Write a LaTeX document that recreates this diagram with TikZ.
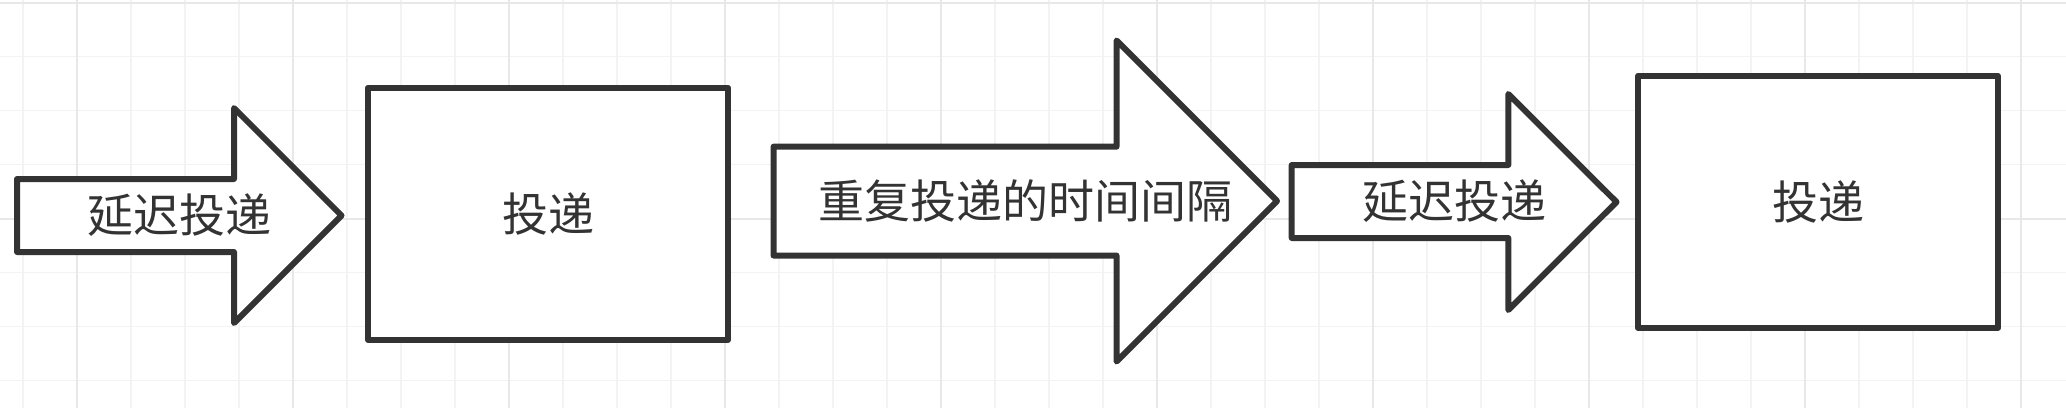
\documentclass[tikz,border=0pt]{standalone}
\usepackage{fontspec}
\newfontfamily\cjk{Noto Sans CJK SC}
\definecolor{ink}{HTML}{333333}
\definecolor{gridminor}{HTML}{F3F3F3}
\definecolor{gridmajor}{HTML}{E8E8E8}
\tikzset{
	outline/.style={draw=ink, line width=6pt, line join=round, fill=white},
	stepbox/.style={outline, rectangle, minimum width=360pt, minimum height=252pt, inner sep=0pt, outer sep=0pt},
	caption/.style={inner sep=0pt, text=ink, font=\cjk\fontsize{46}{52}\selectfont}
}
\begin{document}
\begin{tikzpicture}[x=1pt, y=-1pt]
			\fill[white] (0,0) rectangle (2066,408);
			\useasboundingbox (0,0) rectangle (2066,408);
			% background grid
			\foreach \k in {0,...,37} \draw[gridminor, line width=1.5pt] (23+54*\k,0) -- (23+54*\k,408);
			\foreach \k in {0,...,7} \draw[gridminor, line width=1.5pt] (0,2.7+54*\k) -- (2066,2.7+54*\k);
			\foreach \k in {0,...,9} \draw[gridmajor, line width=2pt] (77+216*\k,0) -- (77+216*\k,408);
			\foreach \k in {0,1} \draw[gridmajor, line width=2pt] (0,2.7+216*\k) -- (2066,2.7+216*\k);
			% arrows
			\draw[outline] (17,179) -- (234,179) -- (234,108) -- (341.5,215.5) -- (234,323) -- (234,252) -- (17,252) -- cycle;
			\node[caption] (delay1) at (179.5,215.5) {延迟投递};
			\draw[outline] (773.5,146.7) -- (1116.5,146.7) -- (1116.5,40.5) -- (1277,201) -- (1116.5,361.5) -- (1116.5,255.5) -- (773.5,255.5) -- cycle;
			\node[caption] (interval) at (1025,201) {重复投递的时间间隔};
			\draw[outline] (1291.7,165) -- (1508.3,165) -- (1508.3,94) -- (1616.5,202) -- (1508.3,310) -- (1508.3,238) -- (1291.7,238) -- cycle;
			\node[caption] (delay2) at (1454,201.5) {延迟投递};
			% boxes
			\node[stepbox, caption] (deliver1) at (548,213.7) {投递};
			\node[stepbox, caption] (deliver2) at (1818,201.9) {投递};
		\end{tikzpicture}
\end{document}
